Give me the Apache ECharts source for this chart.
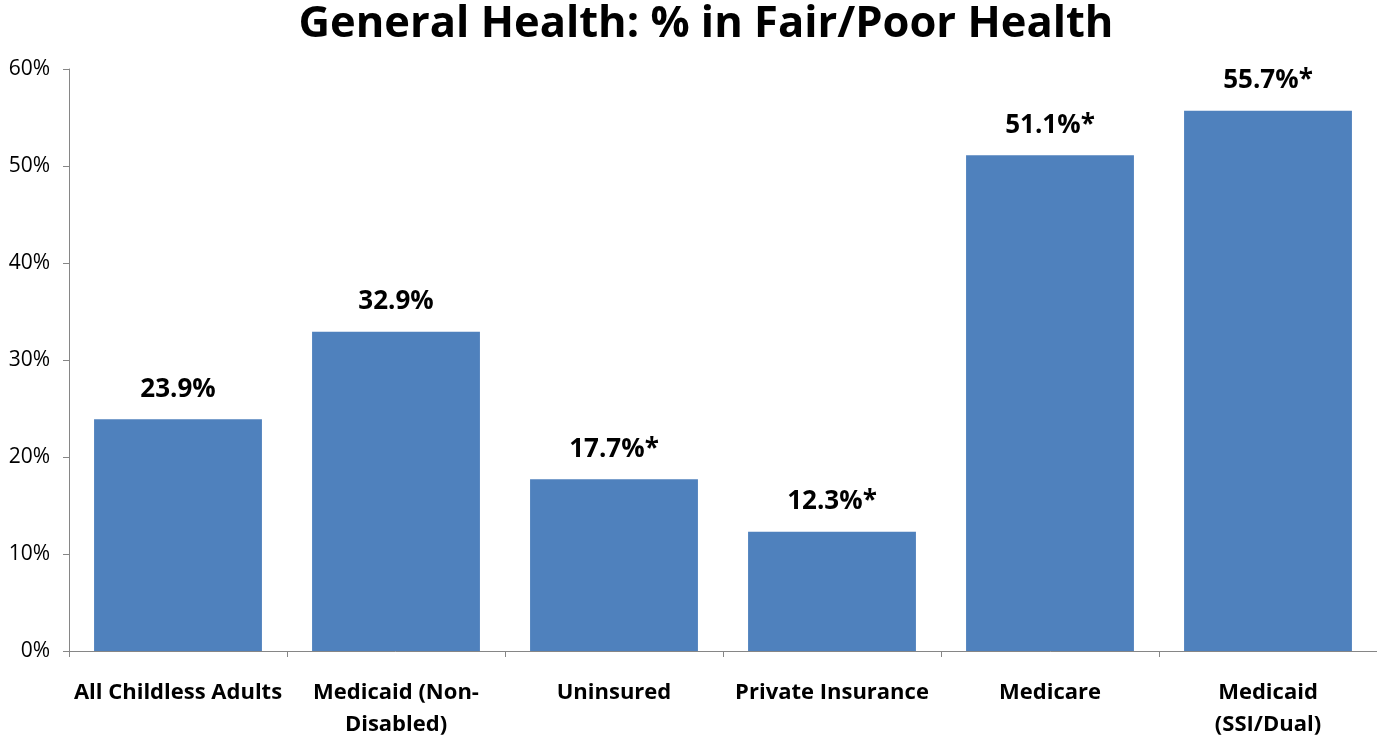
<!DOCTYPE html>
<html><head><meta charset="utf-8">
<script src="https://cdn.jsdelivr.net/npm/echarts@6/dist/echarts.min.js"></script>
<style>html,body{margin:0;padding:0;background:#fff}#c{width:1377px;height:742px}</style>
</head><body><div id="c"></div>
<script>
const titleText = 'General Health: % in Fair/Poor Health';
const categories = ['All Childless Adults', 'Medicaid (Non-\nDisabled)', 'Uninsured', 'Private Insurance', 'Medicare', 'Medicaid\n(SSI/Dual)'];
const values = [23.9, 32.9, 17.7, 12.3, 51.1, 55.7];
const labels = ['23.9%', '32.9%', '17.7%*', '12.3%*', '51.1%*', '55.7%*'];

const chart = echarts.init(document.getElementById('c'));
chart.setOption({
  animation: false,
  title: {
    text: titleText, left: 701, top: -2, textAlign: 'center',
    textStyle: {fontFamily: 'Open Sans', fontWeight: 'bold', fontSize: 43.5, color: '#000'}
  },
  grid: {left: 69, right: 0, top: 69, bottom: 91, containLabel: false},
  xAxis: {
    type: 'category', data: categories,
    axisLine: {lineStyle: {color: '#868686', width: 1}},
    axisTick: {show: true, length: 6, alignWithLabel: false, lineStyle: {color: '#868686'}},
    axisLabel: {interval: 0, margin: 26, fontFamily: 'Open Sans', fontWeight: 'bold', fontSize: 22, color: '#000', lineHeight: 32}
  },
  yAxis: {
    type: 'value', min: 0, max: 60, interval: 10,
    splitLine: {show: false},
    axisLine: {show: true, lineStyle: {color: '#868686'}},
    axisTick: {show: true, length: 6, lineStyle: {color: '#868686'}},
    axisLabel: {formatter: '{value}%', fontFamily: 'Open Sans', fontSize: 21, color: '#000', margin: 19}
  },
  series: [{
    type: 'bar', data: values, barWidth: '77%',
    itemStyle: {color: '#4F81BD'},
    label: {show: true, position: 'top', distance: 17, formatter: p => labels[p.dataIndex],
      fontFamily: 'Open Sans', fontWeight: 'bold', fontSize: 26, color: '#000'}
  }]
});
</script></body></html>
